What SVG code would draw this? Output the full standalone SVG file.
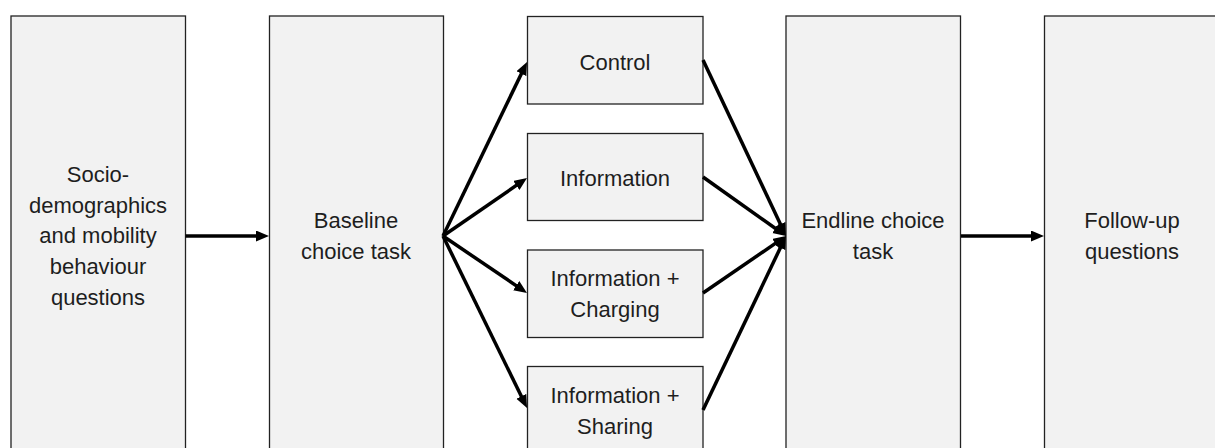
<svg xmlns="http://www.w3.org/2000/svg" width="1215" height="448" viewBox="0 0 1215 448">
<defs>
<style>
.box{fill:#f2f2f2;stroke:#222;stroke-width:1.3}
.t{font-family:"Liberation Sans",Arial,sans-serif;font-size:22px;fill:#1e1e1e;text-anchor:middle}
.c{stroke:#000;stroke-width:3.5;fill:none;marker-end:url(#ah)}
</style>
<marker id="ah" markerUnits="userSpaceOnUse" markerWidth="14" markerHeight="12" refX="7" refY="5.5" orient="auto">
<path d="M0,0 L13,5.5 L0,11 z" fill="#000"/>
</marker>
</defs>
<rect width="1215" height="448" fill="#fff"/>
<g id="n1"><rect class="box" x="11" y="16" width="174.5" height="445"/>
<text class="t"><tspan x="98" y="182">Socio-</tspan><tspan x="98" y="213">demographics</tspan><tspan x="98" y="243">and mobility</tspan><tspan x="98" y="274">behaviour</tspan><tspan x="98" y="305">questions</tspan></text></g>
<g id="n2"><rect class="box" x="269.5" y="16" width="174" height="445"/>
<text class="t"><tspan x="356" y="228">Baseline</tspan><tspan x="356" y="259">choice task</tspan></text></g>
<g id="n3"><rect class="box" x="527.5" y="16.5" width="175.5" height="87.5"/>
<text class="t" x="615" y="70">Control</text></g>
<g id="n4"><rect class="box" x="527.5" y="133.5" width="175.5" height="87"/>
<text class="t" x="615" y="186">Information</text></g>
<g id="n5"><rect class="box" x="527.5" y="250" width="175.5" height="87.5"/>
<text class="t"><tspan x="615" y="286">Information +</tspan><tspan x="615" y="317">Charging</tspan></text></g>
<g id="n6"><rect class="box" x="527.5" y="366.5" width="175.5" height="95"/>
<text class="t"><tspan x="615" y="403">Information +</tspan><tspan x="615" y="434">Sharing</tspan></text></g>
<g id="n7"><rect class="box" x="786" y="16" width="174.5" height="445"/>
<text class="t"><tspan x="873" y="228">Endline choice</tspan><tspan x="873" y="259">task</tspan></text></g>
<g id="n8"><rect class="box" x="1044.5" y="16" width="176" height="445"/>
<text class="t"><tspan x="1132" y="228">Follow-up</tspan><tspan x="1132" y="259">questions</tspan></text></g>
<g id="connectors">
<line class="c" x1="185.5" y1="236" x2="263" y2="236"/>
<line class="c" x1="443" y1="236" x2="524.4" y2="67.4"/>
<line class="c" x1="443" y1="236" x2="522.1" y2="181.4"/>
<line class="c" x1="443" y1="236" x2="522" y2="289.6"/>
<line class="c" x1="443" y1="236" x2="524.4" y2="402.6"/>
<line class="c" x1="703" y1="60" x2="783.4" y2="230.6"/>
<line class="c" x1="703" y1="177" x2="781.1" y2="232.5"/>
<line class="c" x1="703" y1="293" x2="781.1" y2="239.4"/>
<line class="c" x1="703" y1="410" x2="783.4" y2="241.4"/>
<line class="c" x1="961" y1="236" x2="1038" y2="236"/>
</g>
</svg>
